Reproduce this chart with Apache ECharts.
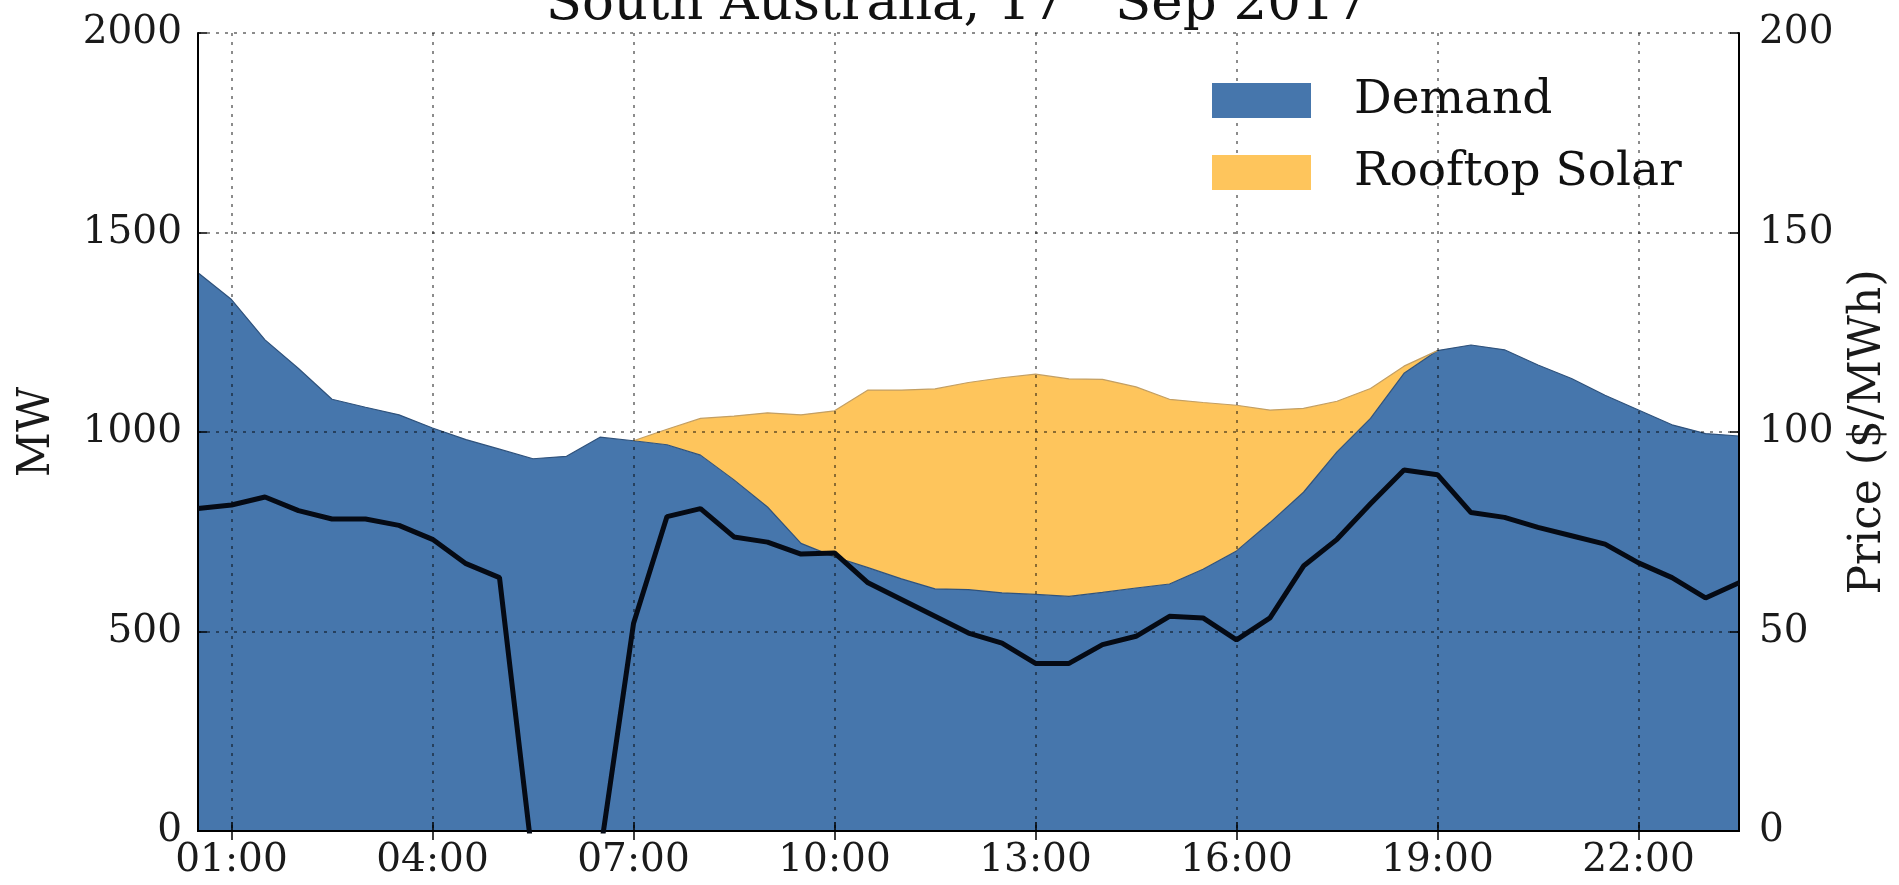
<!DOCTYPE html>
<html>
<head>
<meta charset="utf-8">
<title>South Australia, 17th Sep 2017</title>
<script src="https://cdn.jsdelivr.net/npm/echarts/dist/echarts.min.js"></script>
<style>
  html, body { margin: 0; padding: 0; background: #fff; }
  #chart { width: 1899px; height: 885px; }
</style>
</head>
<body>
<div id="chart"></div>
<script>
// half-hourly intervals, 00:30 .. 23:30
var times = ['00:30', '01:00', '01:30', '02:00', '02:30', '03:00', '03:30', '04:00', '04:30', '05:00',
  '05:30', '06:00', '06:30', '07:00', '07:30', '08:00', '08:30', '09:00', '09:30', '10:00',
  '10:30', '11:00', '11:30', '12:00', '12:30', '13:00', '13:30', '14:00', '14:30', '15:00',
  '15:30', '16:00', '16:30', '17:00', '17:30', '18:00', '18:30', '19:00', '19:30', '20:00',
  '20:30', '21:00', '21:30', '22:00', '22:30', '23:00', '23:30']

// MW
var demand = [1399, 1332, 1231, 1159, 1082, 1062, 1043, 1010, 981, 957,
  933, 939, 987, 978, 968, 942, 880, 812, 721, 687,
  660, 632, 607, 605, 597, 593, 588, 598, 609, 619,
  656, 702, 773, 849, 950, 1034, 1147, 1204, 1218, 1206,
  1168, 1134, 1092, 1055, 1018, 996, 990]

// MW, stacked on top of demand
var rooftopSolar = [null, null, null, null, null, null, null, null, null, null,
  null, null, null, 0, 39, 92, 160, 236, 322, 366,
  445, 473, 501, 519, 539, 552, 545, 534, 504, 463,
  418, 365, 282, 210, 127, 75, 18, 0, null, null,
  null, null, null, null, null, null, null]

// $/MWh (negative values fall below the axis and get clipped)
var price = [80.8, 81.7, 83.7, 80.3, 78.2, 78.2, 76.6, 73.1, 67.0, 63.5,
  -8, -20, -6, 52, 78.8, 80.8, 73.7, 72.4, 69.4, 69.7,
  62.2, 58.0, 53.8, 49.6, 47.1, 42.0, 42.0, 46.7, 48.8, 53.8,
  53.4, 47.9, 53.4, 66.4, 73.1, 82.0, 90.5, 89.3, 79.8, 78.6,
  76.1, 74.0, 71.9, 67.2, 63.5, 58.4, 62.2]

var font = 'DejaVu Serif'
var gridLine = { type: [3, 6], color: 'rgba(0,0,0,0.6)', width: 1.5 }

function isMajor(index, value) {
  var hh = parseInt(value.slice(0, 2), 10)
  return value.slice(3) === '00' && (hh - 1) % 3 === 0
}

function plain(v) {
  return String(v)
}

var chart = echarts.init(document.getElementById('chart'))
chart.setOption({
  animation: false,
  backgroundColor: '#fff',
  graphic: [{
    type: 'text',
    x: 957,
    y: 5,
    z: 10,
    style: {
      text: '{a|South Australia, 17}{s|th}{a| Sep 2017}',
      align: 'center',
      verticalAlign: 'middle',
      fill: '#111',
      rich: {
        a: { fontFamily: font, fontSize: 53, lineHeight: 60, fill: '#111' },
        s: { fontFamily: font, fontSize: 32, lineHeight: 60, verticalAlign: 'top', fill: '#111' }
      }
    }
  }],
  legend: {
    data: ['Demand', 'Rooftop Solar'],
    orient: 'vertical',
    left: 1207,
    top: 72,
    itemWidth: 99,
    itemHeight: 35,
    itemGap: 25,
    icon: 'rect',
    selectedMode: false,
    textStyle: { fontFamily: font, fontSize: 47, color: '#111', lineHeight: 35, padding: [0, 0, 0, 38] }
  },
  grid: { left: 198, right: 149, top: 33, bottom: 54, containLabel: false },
  xAxis: [
    {
      type: 'category',
      data: times,
      boundaryGap: false,
      z: 3,
      axisLine: { lineStyle: { color: '#000', width: 2 } },
      axisTick: { inside: true, length: 9, interval: isMajor, lineStyle: { color: '#000', width: 1.5 } },
      axisLabel: { interval: isMajor, fontFamily: font, fontSize: 39, color: '#1a1a1a', margin: 10 },
      splitLine: { show: true, interval: isMajor, lineStyle: gridLine }
    },
    {
      type: 'category',
      position: 'top',
      data: times,
      boundaryGap: false,
      z: 3,
      axisLine: { lineStyle: { color: '#000', width: 2 } },
      axisTick: { inside: true, length: 9, interval: isMajor, lineStyle: { color: '#000', width: 1.5 } },
      axisLabel: { show: false },
      splitLine: { show: false }
    }
  ],
  yAxis: [
    {
      type: 'value',
      min: 0,
      max: 2000,
      interval: 500,
      z: 3,
      name: 'MW',
      nameLocation: 'middle',
      nameRotate: 90,
      nameGap: 138,
      nameTextStyle: { fontFamily: font, fontSize: 44, color: '#1a1a1a' },
      axisLine: { show: true, lineStyle: { color: '#000', width: 2 } },
      axisTick: { show: true, inside: true, length: 9, lineStyle: { color: '#000', width: 1.5 } },
      axisLabel: { fontFamily: font, fontSize: 39, color: '#1a1a1a', margin: 16, formatter: plain },
      splitLine: { show: true, lineStyle: gridLine }
    },
    {
      type: 'value',
      position: 'right',
      min: 0,
      max: 200,
      interval: 50,
      z: 3,
      name: 'Price ($/MWh)',
      nameLocation: 'middle',
      nameRotate: 90,
      nameGap: 108,
      nameTextStyle: { fontFamily: font, fontSize: 44, color: '#1a1a1a' },
      axisLine: { show: true, lineStyle: { color: '#000', width: 2 } },
      axisTick: { show: true, inside: true, length: 9, lineStyle: { color: '#000', width: 1.5 } },
      axisLabel: { fontFamily: font, fontSize: 39, color: '#1a1a1a', margin: 20, formatter: plain },
      splitLine: { show: false }
    }
  ],
  series: [
    {
      name: 'Demand',
      type: 'line',
      stack: 'mw',
      data: demand,
      symbol: 'none',
      z: 2,
      itemStyle: { color: '#4676ac' },
      lineStyle: { color: '#2f527c', width: 1.2 },
      areaStyle: { color: '#4676ac', opacity: 1 }
    },
    {
      name: 'Rooftop Solar',
      type: 'line',
      stack: 'mw',
      data: rooftopSolar,
      symbol: 'none',
      z: 2,
      itemStyle: { color: '#fec55c' },
      lineStyle: { color: '#c39f63', width: 1.2 },
      areaStyle: { color: '#fec55c', opacity: 1 }
    },
    {
      name: 'Price',
      type: 'line',
      yAxisIndex: 1,
      data: price,
      symbol: 'none',
      clip: true,
      z: 5,
      lineStyle: { color: '#050a14', width: 5 }
    }
  ]
})
</script>
</body>
</html>
